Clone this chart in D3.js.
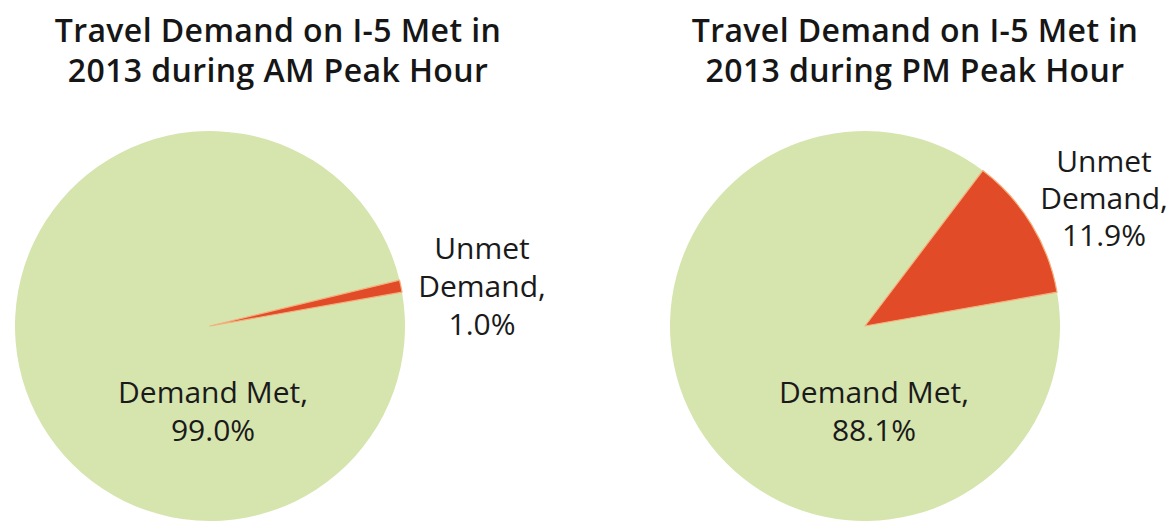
<!DOCTYPE html>
<html>
<head>
<meta charset="utf-8">
<script src="https://cdn.jsdelivr.net/npm/d3@7"></script>
<style>
  html, body { margin: 0; padding: 0; background: #ffffff; }
  svg { display: block; }
</style>
</head>
<body>
<svg id="chart" width="1171" height="524"></svg>
<script>
// ---- data ----
const categories = ["Demand Met", "Unmet Demand"];
const amValues = [99.0, 1.0];
const pmValues = [88.1, 11.9];
const titlesAM = ["Travel Demand on I-5 Met in", "2013 during AM Peak Hour"];
const titlesPM = ["Travel Demand on I-5 Met in", "2013 during PM Peak Hour"];
const metLabel = ["Demand Met,"];
const unmetLabel = ["Unmet", "Demand,"];

// ---- layout ----
const colors = d3.scaleOrdinal().domain(categories).range(["#d6e4ae", "#e14b27"]);
const fmt = d3.format(".1f");
const font = "'Open Sans', 'DejaVu Sans', sans-serif";

const panels = [
  { values: amValues, titles: titlesAM, cx: 210, cy: 326, titleX: 278, metX: 3, unmetX: 482, unmetY: 259, unmetStep: 38 },
  { values: pmValues, titles: titlesPM, cx: 865, cy: 326, titleX: 915, metX: 9, unmetX: 1104, unmetY: 172, unmetStep: 37 }
];
const R = 195;
const startDeg = 80;

const svg = d3.select("#chart");

const pie = d3.pie()
  .sort(null)
  .value(d => d.value)
  .startAngle(startDeg * Math.PI / 180)
  .endAngle(startDeg * Math.PI / 180 + 2 * Math.PI);
const arc = d3.arc().innerRadius(0).outerRadius(R);

panels.forEach(p => {
  const g = svg.append("g");
  const data = categories.map((c, i) => ({ category: c, value: p.values[i] }));
  const arcs = pie(data);

  // title
  g.append("text")
    .attr("text-anchor", "middle")
    .attr("font-family", font)
    .attr("font-weight", 600)
    .attr("font-size", 32)
    .attr("letter-spacing", 0.4)
    .attr("fill", "#161616")
    .selectAll("tspan")
    .data(p.titles)
    .join("tspan")
    .attr("x", p.titleX)
    .attr("y", (d, i) => 42 + i * 40)
    .text(d => d);

  // pie
  const pg = g.append("g").attr("transform", `translate(${p.cx},${p.cy})`);
  pg.selectAll("path")
    .data(arcs)
    .join("path")
    .attr("d", arc)
    .attr("fill", d => colors(d.data.category))
    .attr("stroke", d => d.data.category === "Unmet Demand" ? "#f4b07c" : "none")
    .attr("stroke-width", 1.2)
    .attr("stroke-linejoin", "round");

  // Demand Met label (inside)
  const met = arcs[0];
  pg.append("text")
    .attr("text-anchor", "middle")
    .attr("font-family", font)
    .attr("font-size", 30)
    .attr("fill", "#1a1a1a")
    .selectAll("tspan")
    .data([metLabel[0], fmt(met.data.value) + "%"])
    .join("tspan")
    .attr("x", p.metX)
    .attr("y", (d, i) => 77 + i * 38)
    .text(d => d);

  // Unmet label (outside)
  const un = arcs[1];
  g.append("text")
    .attr("text-anchor", "middle")
    .attr("font-family", font)
    .attr("font-size", 30)
    .attr("fill", "#1a1a1a")
    .selectAll("tspan")
    .data([unmetLabel[0], unmetLabel[1], fmt(un.data.value) + "%"])
    .join("tspan")
    .attr("x", p.unmetX)
    .attr("y", (d, i) => p.unmetY + i * p.unmetStep)
    .text(d => d);
});
</script>
</body>
</html>
